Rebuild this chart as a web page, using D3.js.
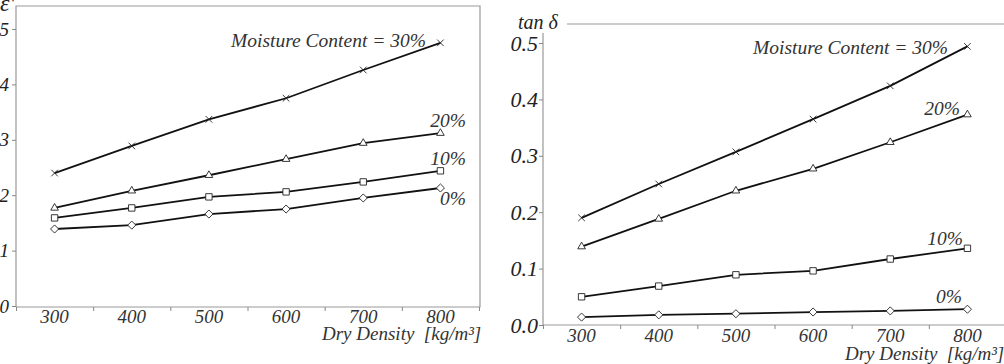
<!DOCTYPE html>
<html>
<head>
<meta charset="utf-8">
<script src="https://cdn.jsdelivr.net/npm/d3@7"></script>
<style>
  html, body { margin: 0; padding: 0; background: #fff; }
</style>
</head>
<body>
<div id="chart"></div>
<script>
const density = [300, 400, 500, 600, 700, 800];
const moisture = ['30%', '20%', '10%', '0%'];
const markers = ['x', 'triangle', 'square', 'diamond'];

// dielectric constant eps'
const eps30 = [2.40, 2.89, 3.37, 3.75, 4.26, 4.75];
const eps20 = [1.77, 2.08, 2.36, 2.65, 2.94, 3.12];
const eps10 = [1.59, 1.77, 1.97, 2.06, 2.24, 2.44];
const eps0  = [1.39, 1.46, 1.66, 1.75, 1.95, 2.13];

// loss tangent tan delta
const tan30 = [0.190, 0.250, 0.307, 0.365, 0.424, 0.494];
const tan20 = [0.139, 0.188, 0.238, 0.277, 0.324, 0.373];
const tan10 = [0.050, 0.069, 0.089, 0.096, 0.117, 0.136];
const tan0  = [0.014, 0.018, 0.020, 0.023, 0.025, 0.028];

const epsTicks = [0, 1, 2, 3, 4, 5];
const tanTicks = [0, 0.1, 0.2, 0.3, 0.4, 0.5];
const xTickMarks = [250, 350, 450, 550, 650, 750, 850];

const width = 1004, height = 364;
const serif = 'Liberation Serif';

const svg = d3.select('#chart').append('svg')
  .attr('width', width)
  .attr('height', height)
  .attr('viewBox', [0, 0, width, height])
  .attr('font-family', serif)
  .attr('font-style', 'italic');

const symbolOf = {
  x: d3.symbolX,
  triangle: d3.symbolTriangle2,
  square: d3.symbolSquare2,
  diamond: d3.symbolDiamond2
};
const symbolSize = { x: 30, triangle: 42, square: 52, diamond: 42 };

function drawPanel(cfg) {
  const g = svg.append('g');
  const x = d3.scaleLinear().domain([250, 850]).range(cfg.xRange);
  const y = d3.scaleLinear().domain(cfg.yDomain).range(cfg.yRange);

  // frame
  g.append('path')
    .attr('d', cfg.frame)
    .attr('fill', 'none')
    .attr('stroke', '#999')
    .attr('stroke-width', 1.2);

  // y axis
  const ya = g.append('g')
    .attr('transform', `translate(${cfg.xRange[0]},0)`)
    .call(d3.axisLeft(y).tickValues(cfg.yTicks).tickSize(4).tickFormat(cfg.yFormat))
    .attr('font-family', serif)
    .attr('font-size', cfg.yFont);
  ya.select('.domain').remove();
  ya.selectAll('line').attr('stroke', '#888');
  ya.selectAll('text')
    .attr('x', cfg.yLabelX - cfg.xRange[0])
    .attr('fill', '#222');

  // x axis tick marks
  const xa = g.append('g')
    .attr('transform', `translate(0,${cfg.xAxisY})`)
    .call(d3.axisBottom(x).tickValues(xTickMarks).tickSize(4).tickFormat(''));
  xa.select('.domain').remove();
  xa.selectAll('line').attr('stroke', '#888');

  g.append('g').selectAll('text')
    .data(density)
    .join('text')
    .attr('x', d => x(d))
    .attr('y', cfg.xLabelY)
    .attr('text-anchor', 'middle')
    .attr('font-size', 19)
    .attr('fill', '#333')
    .text(d => d);

  g.append('text')
    .attr('x', cfg.titleX)
    .attr('y', cfg.titleY)
    .attr('font-size', 19)
    .attr('fill', '#333')
    .style('white-space', 'pre')
    .text('Dry Density  [kg/m³]');

  const line = d3.line().x((d, i) => x(density[i])).y(d => y(d));

  cfg.series.forEach((vals, k) => {
    g.append('path')
      .datum(vals)
      .attr('d', line)
      .attr('fill', 'none')
      .attr('stroke', '#111')
      .attr('stroke-width', 1.8);
    const m = markers[k];
    g.append('g').selectAll('path')
      .data(vals)
      .join('path')
      .attr('transform', (d, i) => `translate(${x(density[i])},${y(d)})`)
      .attr('d', d3.symbol(symbolOf[m], symbolSize[m]))
      .attr('fill', '#fff')
      .attr('stroke', '#222')
      .attr('stroke-width', 0.9);
  });

  cfg.labels.forEach((lab, k) => {
    g.append('text')
      .attr('x', lab[0])
      .attr('y', lab[1])
      .attr('text-anchor', 'end')
      .attr('font-size', 19.5)
      .attr('fill', '#333')
      .text(k === 0 ? 'Moisture Content = ' + moisture[0] : moisture[k]);
  });

  g.append('text')
    .attr('x', cfg.axisNameX)
    .attr('y', cfg.axisNameY)
    .attr('font-size', cfg.axisNameSize)
    .attr('fill', '#222')
    .text(cfg.axisName);
}

drawPanel({
  xRange: [16, 479],
  yDomain: [0, 5],
  yRange: [306, 29],
  yTicks: epsTicks,
  yFormat: d3.format('d'),
  yFont: 19,
  yLabelX: 9,
  xAxisY: 307,
  xLabelY: 323,
  titleX: 322,
  titleY: 340,
  frame: 'M16,307V6H480V307H16',
  series: [eps30, eps20, eps10, eps0],
  labels: [[426, 47], [466, 127], [466, 165], [466, 205]],
  axisName: "ε'",
  axisNameX: 0,
  axisNameY: 11,
  axisNameSize: 24
});

drawPanel({
  xRange: [543, 1006],
  yDomain: [0, 0.5],
  yRange: [325, 43],
  yTicks: tanTicks,
  yFormat: d3.format('.1f'),
  yFont: 22,
  yLabelX: 538,
  xAxisY: 325,
  xLabelY: 342,
  titleX: 845,
  titleY: 360,
  frame: 'M567,24H1004M543,33V325H1004',
  series: [tan30, tan20, tan10, tan0],
  labels: [[948, 54], [960, 115], [963, 245], [962, 303]],
  axisName: 'tan δ',
  axisNameX: 518,
  axisNameY: 29,
  axisNameSize: 20
});
</script>
</body>
</html>
